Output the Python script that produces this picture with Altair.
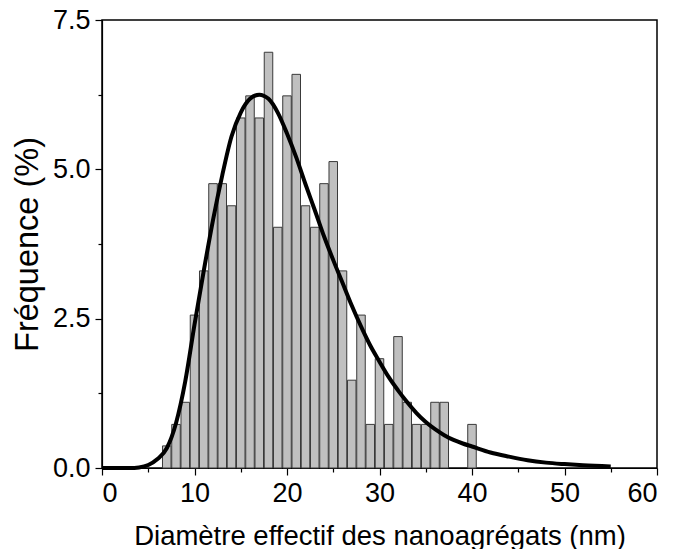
import altair as alt
import pandas as pd

# Histogram bins (nm) and frequencies (%)
bin_center = [7, 8, 9, 10, 11, 12, 13, 14, 15, 16, 17, 18, 19, 20, 21, 22, 23, 24,
              25, 26, 27, 28, 29, 30, 31, 32, 33, 34, 35, 36, 37, 40]
freq = [0.37, 0.73, 1.10, 2.56, 3.30, 4.76, 4.76, 4.39, 5.86, 6.23, 5.86, 6.96, 4.03,
        6.23, 6.59, 4.39, 4.03, 4.76, 5.13, 3.30, 1.47, 2.56, 0.73, 1.83, 0.73, 2.20,
        1.10, 0.73, 0.73, 1.10, 1.10, 0.73]

# Fitted distribution curve
curve_x = [0, 1, 2, 3, 4, 5, 6, 7, 8, 9, 10, 11, 12, 13, 14, 15, 16, 17, 18, 19, 20,
           21, 22, 23, 24, 25, 26, 27, 28, 29, 30, 31, 32, 33, 34, 35, 36, 37, 38, 39,
           40, 42, 44, 46, 48, 50, 52, 55]
curve_y = [0.0, 0.0, 0.0, 0.0, 0.01, 0.05, 0.15, 0.33, 0.75, 1.45, 2.40, 3.30, 4.15,
           4.90, 5.55, 5.95, 6.18, 6.25, 6.18, 5.95, 5.60, 5.20, 4.75, 4.32, 3.88, 3.48,
           3.10, 2.72, 2.37, 2.05, 1.78, 1.52, 1.30, 1.10, 0.92, 0.77, 0.65, 0.55, 0.47,
           0.41, 0.36, 0.26, 0.19, 0.13, 0.09, 0.065, 0.045, 0.025]

x_ticks = [0, 5, 10, 15, 20, 25, 30, 35, 40, 45, 50, 55, 60]
y_ticks = [0, 1.25, 2.5, 3.75, 5.0, 6.25, 7.5]

bars_df = pd.DataFrame({"x": bin_center, "freq": freq})
curve_df = pd.DataFrame({"x": curve_x, "y": curve_y})

FONT = "Liberation Sans"

xscale = alt.Scale(domain=[0, 60], nice=False, zero=False)
yscale = alt.Scale(domain=[0, 7.5], nice=False)

x_axis = alt.Axis(
    values=x_ticks,
    labelExpr="datum.value % 10 === 0 ? datum.label : ''",
    tickSize={"condition": {"test": "datum.value % 10 === 0", "value": 7}, "value": 4},
    title="Diamètre effectif des nanoagrégats (nm)",
    grid=False, domainColor="black", tickColor="black", tickWidth=1.2, domainWidth=1.2,
    labelFont=FONT, labelFontSize=27, labelColor="black", labelPadding=5,
    titleFont=FONT, titleFontSize=27.5, titleFontWeight="normal", titleColor="black",
    titlePadding=16,
)
y_axis = alt.Axis(
    values=y_ticks,
    format=".1f",
    labelExpr="datum.value % 2.5 === 0 ? datum.label : ''",
    tickSize={"condition": {"test": "datum.value % 2.5 === 0", "value": 7}, "value": 4},
    title="Fréquence (%)",
    grid=False, domainColor="black", tickColor="black", tickWidth=1.2, domainWidth=1.2,
    labelFont=FONT, labelFontSize=27, labelColor="black", labelPadding=5,
    titleFont=FONT, titleFontSize=32.5, titleFontWeight="normal", titleColor="black",
    titlePadding=8,
)

bars = alt.Chart(bars_df).transform_calculate(
    x0="datum.x - 0.46", x1="datum.x + 0.46"
).mark_bar(color="#c0c0c0", stroke="#3a3a3a", strokeWidth=1).encode(
    x=alt.X("x0:Q", scale=xscale, axis=x_axis),
    x2="x1:Q",
    y=alt.Y("freq:Q", scale=yscale, axis=y_axis),
    y2=alt.datum(0),
)

curve = alt.Chart(curve_df).mark_line(
    color="black", strokeWidth=4, interpolate="monotone"
).encode(
    x=alt.X("x:Q", scale=xscale),
    y=alt.Y("y:Q", scale=yscale),
)

chart = alt.layer(bars, curve).properties(
    width=555, height=448,
    autosize=alt.AutoSizeParams(type="none"),
    padding={"left": 102, "top": 20, "right": 16, "bottom": 81},
    background="white",
).configure_view(stroke="black", strokeWidth=1.5)

chart.save("out.html", embed_options={"renderer": "svg", "actions": False})
